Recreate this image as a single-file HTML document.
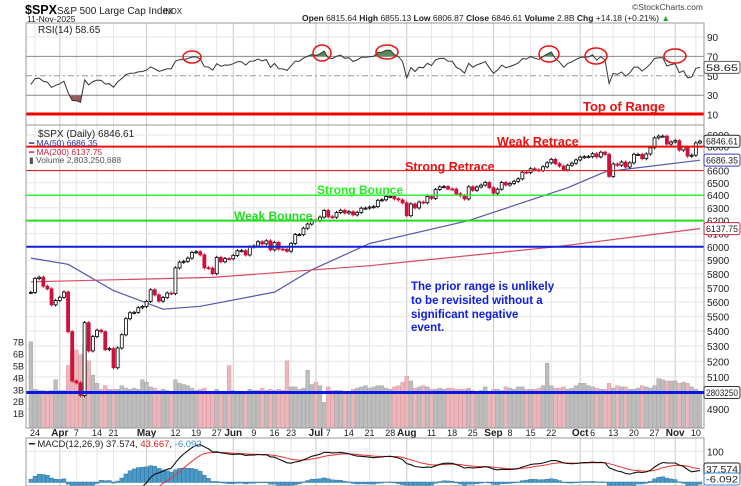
<!DOCTYPE html>
<html><head><meta charset="utf-8"><style>
html,body{margin:0;background:#fff;overflow:hidden;width:741px;height:486px;}
svg{display:block;font-family:"Liberation Sans",Arial,sans-serif;}
</style></head><body>
<svg id="c" width="741" height="486" viewBox="0 0 741 486">
<text x="25" y="14" font-size="12.5" font-weight="bold" fill="#000">$SPX</text>
<text x="57" y="14" font-size="10" fill="#222">S&amp;P 500 Large Cap Index</text>
<text x="163" y="14" font-size="8" fill="#222">INDX</text>
<text x="27" y="22" font-size="8.5" fill="#222">11-Nov-2025</text>
<text x="632" y="10" font-size="8.5" fill="#444">©StockCharts.com</text>
<text x="302" y="21" font-size="8.5" fill="#222"><tspan font-weight="bold">Open</tspan> 6815.64 <tspan font-weight="bold">High</tspan> 6855.13 <tspan font-weight="bold">Low</tspan> 6806.87 <tspan font-weight="bold">Close</tspan> 6846.61 <tspan font-weight="bold">Volume</tspan> 2.8B <tspan font-weight="bold">Chg</tspan> +14.18 (+0.21%) <tspan fill="#2a2">▲</tspan></text>
<g id="g"></g>
</svg>
<script>
const closes=[5667,5767,5776,5712,5693,5580,5611,5633,5670,5396,5074,5062,4982,5457,5268,5363,5406,5396,5276,5283,5158,5287,5375,5484,5525,5528,5560,5569,5604,5686,5650,5606,5631,5663,5659,5844,5886,5892,5916,5958,5963,5940,5845,5842,5802,5921,5889,5912,5911,5936,5970,5971,5939,6000,6006,6038,6022,6045,5977,6033,5983,5981,5967,6025,6092,6092,6141,6173,6205,6198,6227,6279,6230,6226,6263,6280,6259,6269,6244,6264,6297,6297,6305,6309,6359,6363,6389,6390,6371,6362,6339,6238,6330,6299,6345,6340,6389,6374,6446,6466,6469,6450,6449,6411,6396,6370,6467,6439,6466,6481,6502,6460,6416,6448,6502,6482,6495,6512,6532,6587,6584,6615,6606,6600,6631,6664,6693,6657,6637,6605,6644,6661,6688,6711,6715,6716,6740,6714,6753,6735,6552,6654,6644,6671,6629,6664,6735,6735,6699,6738,6791,6875,6890,6890,6822,6840,6851,6771,6796,6720,6728,6832,6846.61];
const volumes=[7.0,3.0,2.9,2.9,2.8,2.9,3.8,2.9,2.9,5.0,6.2,6.3,5.9,6.8,5.4,4.2,3.5,3.0,3.3,3.0,3.0,3.0,3.3,3.1,3.0,3.1,3.0,3.8,3.6,3.2,3.1,2.9,3.0,2.9,2.8,3.8,3.5,3.4,3.3,3.1,2.9,3.0,3.1,2.8,2.7,3.0,2.6,2.8,5.0,2.9,2.8,2.6,2.7,3.0,2.9,2.9,3.1,2.9,3.0,2.9,3.0,2.9,5.4,3.2,3.2,3.0,3.1,4.6,3.4,3.6,3.3,1.9,3.2,2.9,2.9,2.9,2.8,2.7,3.0,3.1,3.2,3.3,3.1,3.2,3.3,3.3,3.1,3.0,3.2,3.3,3.6,4.1,3.7,3.1,3.2,3.3,3.2,3.0,3.0,3.1,3.0,3.1,3.1,3.0,3.0,3.0,3.1,2.9,2.6,2.9,3.2,2.8,3.0,3.0,2.9,3.2,3.1,3.0,3.2,3.2,3.0,3.0,3.0,3.1,3.3,5.2,3.3,3.1,3.1,3.2,3.0,3.1,3.3,3.5,3.5,3.3,3.2,3.1,3.0,3.0,3.5,3.1,3.3,3.2,3.2,3.0,3.0,3.1,3.3,3.2,3.1,3.3,3.9,3.8,3.7,3.7,3.7,3.5,3.6,3.5,3.2,3.0,2.8];
const ma50Idx=[0,9,20,32,41,59,68,82,106,130,139,162];
const ma50Val=[5916,5870,5680,5550,5570,5670,5830,6025,6200,6460,6590,6686.35];
const ma200Idx=[0,44,82,127,162];
const ma200Val=[5743,5775,5860,6000,6137.75];
const tickIdx=[1,7,11,16,20,28,35,40,45,49,54,59,63,69,72,77,82,87,91,97,102,107,112,116,121,126,133,136,141,146,151,156,161];
const tickLbl=["24","Apr","7","14","21","May","12","19","27","Jun","9","16","23","Jul","7","14","21","28","Aug","11","18","25","Sep","8","15","22","Oct","6","13","20","27","Nov","10"];
const priceTicks=[4900,5100,5200,5300,5400,5500,5600,5700,5800,5900,6000,6100,6200,6300,6400,6500,6600,6800,6900];
const volTicks=[1,2,3,4,5,6,7];
const rsiTicks=[10,30,50,70,90];

const NS="http://www.w3.org/2000/svg";
const G=document.getElementById('g');
function el(tag,attrs,parent,text){const e=document.createElementNS(NS,tag);for(const k in attrs)e.setAttribute(k,attrs[k]);if(text!==undefined)e.textContent=text;(parent||G).appendChild(e);return e;}
const L=26,R=704;
const xi=i=>30.9+4.13*i;
const yP=p=>246.8-800*Math.log(p/6000);
const yV=v=>425-11.9*v;
const yR=r=>124.3-0.97*r;
const yM=m=>482-0.306*m;
const isMonth=s=>isNaN(+s);

const defs=el('defs',{});
const cp=(id,y1,y2)=>{const c=el('clipPath',{id},defs);el('rect',{x:L,y:y1,width:R-L,height:y2-y1},c);};
cp('cR',23,125);cp('cP',125,428);cp('cM',438,486);

tickIdx.forEach((t,k)=>{[[23,125],[125,428],[438,486]].forEach(([a,b])=>{
  const v=el('line',{x1:xi(t),x2:xi(t),y1:a,y2:b,stroke:isMonth(tickLbl[k])?'#c8c8c8':'#e6e6e6','stroke-width':1});
  
  
});
  const tl=el('text',{x:xi(t),y:436,'font-size':isMonth(tickLbl[k])?10:9,'font-weight':isMonth(tickLbl[k])?'bold':'normal','text-anchor':'middle',fill:'#222'},G,tickLbl[k]);
  
  
});

rsiTicks.forEach(r=>{
  const dark=(r===70||r===30);
  const ln=el('line',{x1:L,x2:R,y1:yR(r),y2:yR(r),stroke:dark?'#8c8c8c':(r===50?'#999':'#e6e6e6'),'stroke-dasharray':r===50?'6,3,2,3':'none'});
  
  
  const t=el('text',{x:707,y:yR(r)+4,'font-size':10,fill:'#222'},G,String(r));
  
  
});
const rsi=[];let ag=28,al=40;
closes.forEach((c,i)=>{if(i>0){const d=c-closes[i-1];ag=(ag*13+Math.max(d,0))/14;al=(al*13+Math.max(-d,0))/14;}rsi.push(100-100/(1+ag/al));});
const rpts=rsi.map((r,i)=>xi(i).toFixed(1)+','+yR(r).toFixed(1)).join(' ');
const rg=el('g',{'clip-path':'url(#cR)'});
const cA=el('clipPath',{id:'cA'},defs);el('rect',{x:L,y:0,width:R-L,height:yR(70)},cA);
const cB=el('clipPath',{id:'cB'},defs);el('rect',{x:L,y:yR(30),width:R-L,height:200},cB);
const fa=el('polygon',{points:xi(0)+','+yR(70)+' '+rpts+' '+xi(closes.length-1)+','+yR(70),fill:'#5a8a5a','clip-path':'url(#cA)'},rg);


const fb=el('polygon',{points:xi(0)+','+yR(30)+' '+rpts+' '+xi(closes.length-1)+','+yR(30),fill:'#9a5a5a','clip-path':'url(#cB)'},rg);


const rl=el('polyline',{points:rpts,fill:'none',stroke:'#333','stroke-width':1},rg);



priceTicks.forEach(p=>{
  const ln=el('line',{x1:L,x2:R,y1:yP(p),y2:yP(p),stroke:'#e6e6e6'});
  
  
  const t=el('text',{x:707,y:yP(p)+4,'font-size':10,fill:'#222'},G,String(p));
  
  
});
volTicks.forEach(v=>{
  const t=el('text',{x:13,y:yV(v)+4,'font-size':9,fill:'#222'},G,v+'B');
  
  
});
const pg=el('g',{'clip-path':'url(#cP)'});
volumes.forEach((v,i)=>{
  const down=i>0&&closes[i]<closes[i-1];
  const b=el('rect',{x:xi(i)-1.9,y:yV(v),width:3.8,height:425-yV(v)+3,fill:down?'#e8b8bc':'#bdbdbd',stroke:down?'#e09aa0':'#a8a8a8','stroke-width':0.5},pg);
  
  
});
function maLine(idx,val,col,name){
  const m=el('polyline',{points:idx.map((t,k)=>xi(t).toFixed(1)+','+yP(val[k]).toFixed(1)).join(' '),fill:'none',stroke:col,'stroke-width':1.2,'stroke-linejoin':'round'},pg);
  
  
}
maLine(ma50Idx,ma50Val,'#5558b0','ma50-line');
maLine(ma200Idx,ma200Val,'#d84a64','ma200-line');
closes.forEach((c,i)=>{
  const o=i>0?closes[i-1]:c;
  const down=i>0&&c<closes[i-1];
  const col=down?'#d0103a':'#000';
  const hi=Math.max(o,c)*1.002, lo=Math.min(o,c)*0.998;
  const w=el('line',{x1:xi(i),x2:xi(i),y1:yP(hi),y2:yP(lo),stroke:col,'stroke-width':1},pg);
  
  
  const top=yP(Math.max(o,c)),bh=Math.max(1,yP(Math.min(o,c))-top);
  const b=el('rect',{x:xi(i)-1.5,y:top,width:3,height:bh,fill:c>=o&&!down?'#fff':col,stroke:col,'stroke-width':0.8},pg);
  
  
});
let e12=closes[0],e26=closes[0]+90,sig=-95;const macd=[],sg=[];
closes.forEach(c=>{e12=e12+(c-e12)*2/13;e26=e26+(c-e26)*2/27;const m=e12-e26;sig=sig+(m-sig)*0.2;macd.push(m);sg.push(sig);});
const mg=el('g',{'clip-path':'url(#cM)'});
const zl=el('line',{x1:L,x2:R,y1:yM(100),y2:yM(100),stroke:'#e6e6e6'},mg);


macd.forEach((m,i)=>{const h=m-sg[i];const y0=yM(0),y1=yM(h);
  const b=el('rect',{x:xi(i)-2,y:Math.min(y0,y1),width:4,height:Math.abs(y1-y0)+0.5,fill:'#4a9ac8',stroke:'#2a6a98','stroke-width':0.4},mg);
  
  
});
const ms=el('polyline',{points:sg.map((v,i)=>xi(i).toFixed(1)+','+yM(v).toFixed(1)).join(' '),fill:'none',stroke:'#f03030','stroke-width':1},mg);


const ml=el('polyline',{points:macd.map((v,i)=>xi(i).toFixed(1)+','+yM(v).toFixed(1)).join(' '),fill:'none',stroke:'#111','stroke-width':1.1},mg);


const mt=el('text',{x:707,y:yM(100)+4,'font-size':10,fill:'#222'},G,'100');



function hl(y,col,w,name){const l=el('line',{x1:L,x2:R,y1:y,y2:y,stroke:col,'stroke-width':w});}
hl(114,'#ee0000',3,'top-of-range-line');
hl(yP(6800),'#e81010',2,'weak-retrace-line');
hl(yP(6600),'#e82020',1.2,'strong-retrace-line');
hl(yP(6400),'#22ee22',1.3,'strong-bounce-line');
hl(yP(6200),'#22dd22',2,'weak-bounce-line');
hl(yP(6000),'#1020d8',2,'prior-range-line');
hl(392.5,'#0818e0',3,'volume-average-line');

[[23,125],[125,428],[438,486]].forEach(([a,b])=>{const r=el('rect',{x:L,y:a,width:R-L,height:b-a,fill:'none',stroke:'#9a9a9a','stroke-width':1});});

function tx(x,y,s,col,size,name){const t=el('text',{x,y,'font-size':size,'font-weight':'bold',fill:col},G,s);}
tx(583,111,'Top of Range','#ee1010',13,'top-of-range-label');
tx(497,146,'Weak Retrace','#ee1010',12.5,'weak-retrace-label');
tx(405,171,'Strong Retrace','#ee1010',12.5,'strong-retrace-label');
tx(317,194,'Strong Bounce','#22ee22',12,'strong-bounce-label');
tx(234,220,'Weak Bounce','#22dd22',12,'weak-bounce-label');
tx(411,290,'The prior range is unlikely','#1020e0',11.5,'note-line-1');
tx(411,304,'to be revisited without a','#1020e0',11.5,'note-line-2');
tx(411,318,'significant negative','#1020e0',11.5,'note-line-3');
tx(411,331,'event.','#1020e0',11.5,'note-line-4');

[[192,57,9,6],[322,53,9,8],[387,52,11,7],[549,54,10,8],[596,56,11,8],[675,56,11,7]].forEach(c=>{
  const e=el('ellipse',{cx:c[0],cy:c[1],rx:c[2],ry:c[3],fill:'none',stroke:'#ee1010','stroke-width':1.5});
  
  
});

function lg(x,y,s,col,name,size){const t=el('text',{x,y,'font-size':size||9.5,fill:col},G,s);}
lg(38,33,'RSI(14) 58.65','#222','rsi-legend',10);
lg(38,137,'$SPX (Daily) 6846.61','#222','price-legend',10);
lg(29,146,'━ MA(50) 6686.35','#2a2aa0','ma50-legend',8.5);
lg(29,155,'━ MA(200) 6137.75','#d02040','ma200-legend',8.5);
lg(29,163,'▮ Volume 2,803,250,688','#555','volume-legend',8.5);
const mlg=el('text',{x:29,y:447,'font-size':9.5,fill:'#222'},G);


mlg.innerHTML='━ MACD(12,26,9) 37.574, <tspan fill="#e02020">43.667</tspan>, <tspan fill="#3a8ad0">-6.092</tspan>';

function tag(y,s,col,name){const r=el('rect',{x:704,y:y-6,width:36,height:12,fill:'#fff',stroke:col,'stroke-width':1,rx:2});const t=el('text',{x:706,y:y+3.5,'font-size':9,fill:'#222',textLength:32,lengthAdjust:'spacingAndGlyphs'},G,s);}
tag(yR(58.65),'58.65','#555','rsi-value-tag');
tag(yP(6846.61),'6846.61','#222','price-value-tag');
tag(yP(6686.35),'6686.35','#3a3ab0','ma50-value-tag');
tag(yP(6137.75),'6137.75','#d02040','ma200-value-tag');
tag(392.5,'2803250','#333','volume-value-tag');
tag(469,'37.574','#222','macd-value-tag');
tag(479,'-6.092','#3a8ad0','macd-hist-value-tag');
</script>
</body></html>
